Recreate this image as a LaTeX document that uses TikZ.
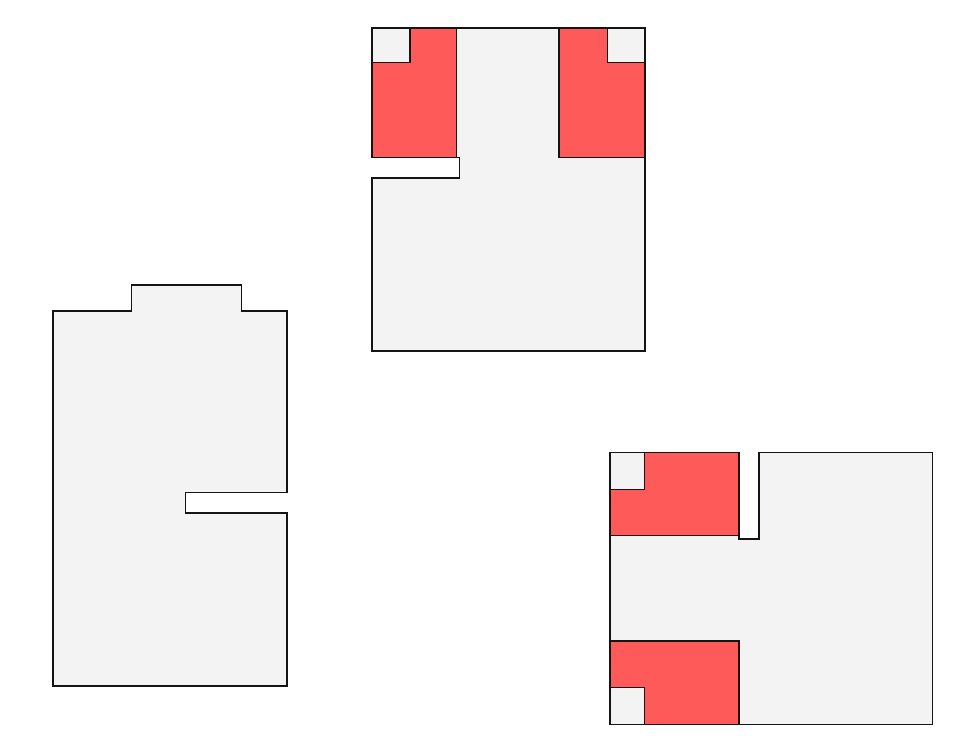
\documentclass[tikz,border=0pt]{standalone}
\usepackage{xcolor}
\usepackage{tikz}
\definecolor{PlanFloor}{RGB}{243,243,243}
\definecolor{PlanRed}{RGB}{255,90,90}
\definecolor{PlanLine}{RGB}{20,20,20}

\begin{document}
\begin{tikzpicture}[
    x=0.02cm,y=-0.02cm,
    room/.style={fill=PlanFloor, draw=PlanLine, line width=0.6pt, line join=miter},
    bed/.style={fill=PlanRed, draw=PlanLine, line width=0.6pt},
    corner/.style={fill=PlanFloor, draw=PlanLine, line width=0.6pt}
  ]
    \useasboundingbox (0,0) rectangle (957,743);
    % left room
    \draw[room] (53,311) -- (131.7,311) -- (131.7,285) -- (241.3,285) -- (241.3,311) -- (287,311)
      -- (287,492.3) -- (185.3,492.3) -- (185.3,513) -- (287,513) -- (287,686) -- (53,686) -- cycle;
    % top room
    \fill[PlanFloor] (372,28) -- (645,28) -- (645,351) -- (372,351) -- (372,178) -- (459.3,178)
      -- (459.3,157.7) -- (372,157.7) -- cycle;
    \draw[bed] (372,28) rectangle (456.3,157.7);
    \draw[corner] (372,28) rectangle (410,62.7);
    \draw[bed] (559,28) rectangle (645,157.7);
    \draw[corner] (607.7,28) rectangle (645,62.7);
    \draw[PlanLine, line width=0.6pt] (372,28) -- (645,28) -- (645,351) -- (372,351) -- (372,178)
      -- (459.3,178) -- (459.3,157.7) -- (372,157.7) -- cycle;
    % bottom right room
    \fill[PlanFloor] (610,452.3) -- (739,452.3) -- (739,539) -- (759,539) -- (759,452.3)
      -- (932.3,452.3) -- (932.3,724.3) -- (610,724.3) -- cycle;
    \draw[bed] (610,452.3) rectangle (739,535.7);
    \draw[corner] (610,452.3) rectangle (644.3,489.3);
    \draw[bed] (610,641) rectangle (739,724.3);
    \draw[corner] (610,687.7) rectangle (644.3,724.3);
    \draw[PlanLine, line width=0.6pt] (610,452.3) -- (739,452.3) -- (739,539) -- (759,539) -- (759,452.3)
      -- (932.3,452.3) -- (932.3,724.3) -- (610,724.3) -- cycle;
  \end{tikzpicture}
\end{document}
